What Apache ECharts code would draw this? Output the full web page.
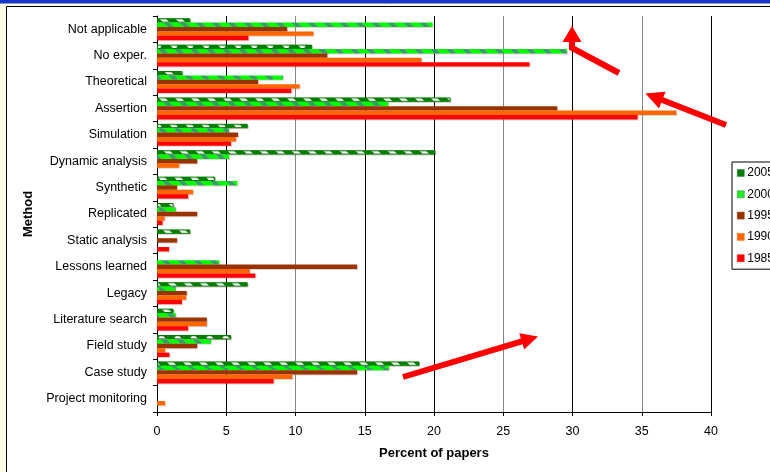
<!DOCTYPE html>
<html>
<head>
<meta charset="utf-8">
<script src="https://cdn.jsdelivr.net/npm/echarts@6/dist/echarts.min.js"></script>
<style>
  html, body { margin: 0; padding: 0; background: #ffffff; }
  #chart { width: 770px; height: 472px; }
</style>
</head>
<body>
<div id="chart"></div>
<script>
// Research methods by period: percent of papers per method
const methods = ['Not applicable', 'No exper.', 'Theoretical', 'Assertion', 'Simulation',
  'Dynamic analysis', 'Synthetic', 'Replicated', 'Static analysis', 'Lessons learned',
  'Legacy', 'Literature search', 'Field study', 'Case study', 'Project monitoring'];
const periods = ['2005', '2000', '1995', '1990', '1985'];
const pct2005 = [2.4, 11.2, 1.85, 21.2, 6.55, 20.1, 4.2, 1.2, 2.4, 0, 6.55, 1.2, 5.35, 18.95, 0];
const pct2000 = [19.9, 29.6, 9.1, 16.7, 5.2, 5.2, 5.8, 1.35, 0, 4.5, 1.35, 1.35, 3.9, 16.75, 0];
const pct1995 = [9.4, 12.3, 7.3, 28.9, 5.85, 2.9, 1.45, 2.9, 1.45, 14.45, 2.15, 3.6, 2.9, 14.45, 0];
const pct1990 = [11.3, 19.1, 10.3, 37.5, 5.7, 1.6, 2.6, 0.55, 0, 6.7, 2.1, 3.6, 0.58, 9.77, 0.58];
const pct1985 = [6.6, 26.9, 9.7, 34.7, 5.35, 0, 2.25, 0.4, 0.87, 7.1, 1.8, 2.25, 0.9, 8.42, 0];
const xTicks = [0, 5, 10, 15, 20, 25, 30, 35, 40];

// Diagonal hatch tiles for the two most recent periods
function hatch(base, stripe, stripeW) {
  const c = document.createElement('canvas');
  c.width = 16; c.height = 16;
  const g = c.getContext('2d');
  g.fillStyle = base;
  g.fillRect(0, 0, 16, 16);
  g.strokeStyle = stripe;
  g.lineWidth = stripeW;
  for (let x = -32; x <= 32; x += 16) {
    g.beginPath();
    g.moveTo(x, 0);
    g.lineTo(x + 16, 16);
    g.stroke();
  }
  return { image: c, repeat: 'repeat' };
}

const fills = [
  hatch('#008000', '#ffffff', 4.5),
  hatch('#00ff00', '#3a9a6a', 4),
  '#993300',
  '#ff6600',
  '#ff0000'
];
const legendColors = ['#0a7a0a', '#22ee22', '#993300', '#ff6600', '#ff0000'];
const values = [pct2005, pct2000, pct1995, pct1990, pct1985];

const series = periods.map((p, i) => ({
  name: p,
  type: 'bar',
  barWidth: 4.4,
  barGap: '0%',
  data: values[i].map(v => (v === 0 ? '-' : v)),
  itemStyle: {
    color: fills[i],
    borderColor: i === 0 ? '#008000' : null,
    borderWidth: i === 0 ? 1 : 0,
    shadowColor: 'rgba(120,60,60,0.22)',
    shadowOffsetX: 1,
    shadowOffsetY: 1
  },
  emphasis: { disabled: true }
}));

// Red call-out arrow as a filled polygon from tail to tip
function arrow(x1, y1, x2, y2, w, hl, hw) {
  const dx = x2 - x1, dy = y2 - y1, L = Math.hypot(dx, dy);
  const ux = dx / L, uy = dy / L, px = -uy, py = ux;
  const bx = x2 - ux * hl, by = y2 - uy * hl;
  return {
    type: 'polygon', z: 100,
    shape: { points: [
      [x1 + px * w / 2, y1 + py * w / 2],
      [bx + px * w / 2, by + py * w / 2],
      [bx + px * hw / 2, by + py * hw / 2],
      [x2, y2],
      [bx - px * hw / 2, by - py * hw / 2],
      [bx - px * w / 2, by - py * w / 2],
      [x1 - px * w / 2, y1 - py * w / 2]
    ] },
    style: { fill: '#ff0000' }
  };
}

const chart = echarts.init(document.getElementById('chart'), null, { renderer: 'canvas' });
chart.setOption({
  animation: false,
  backgroundColor: '#ffffff',
  textStyle: { fontFamily: 'Liberation Sans, Arial, sans-serif' },
  grid: { left: 157, right: 59, top: 16, bottom: 60, containLabel: false },
  legend: {
    orient: 'vertical',
    left: 732, top: 162,
    padding: [4, 40, 4, 5],
    itemWidth: 7, itemHeight: 7,
    itemGap: 7.3,
    icon: 'rect',
    borderColor: '#000', borderWidth: 1,
    backgroundColor: '#ffffff',
    textStyle: { fontSize: 12, color: '#000', lineHeight: 14, padding: [0, 0, 0, -2] },
    data: periods.map((p, i) => ({ name: p, itemStyle: { color: legendColors[i], borderColor: i < 2 ? '#2a7a4a' : legendColors[i], borderWidth: 0.5 } }))
  },
  xAxis: {
    type: 'value',
    min: xTicks[0], max: xTicks[xTicks.length - 1], interval: 5,
    name: 'Percent of papers',
    nameLocation: 'middle',
    nameGap: 35,
    nameTextStyle: { fontSize: 13, fontWeight: 'bold', color: '#000' },
    axisLine: { show: true, lineStyle: { color: '#000', width: 1 } },
    axisTick: { show: true, length: 4, lineStyle: { color: '#000' } },
    axisLabel: { fontSize: 12.5, color: '#000', margin: 13 },
    splitLine: { show: true, lineStyle: { color: ['#000', '#000', '#888', '#000', '#000', '#888', '#000', '#888', '#000'], width: 1 } }
  },
  yAxis: {
    type: 'category',
    inverse: true,
    data: methods,
    name: 'Method',
    nameLocation: 'middle',
    nameGap: 122,
    nameTextStyle: { fontSize: 13, fontWeight: 'bold', color: '#000' },
    axisLine: { show: true, lineStyle: { color: '#000', width: 1 } },
    axisTick: { show: true, length: 4, lineStyle: { color: '#000' } },
    axisLabel: { fontSize: 12.5, color: '#000', margin: 10 },
    splitLine: { show: false }
  },
  series: series,
  graphic: [
    { type: 'rect', z: -1, shape: { x: 0, y: 0, width: 770, height: 7 }, style: { fill: '#fcfbe6' } },
    { type: 'rect', z: -1, shape: { x: 0, y: 0, width: 7, height: 472 }, style: { fill: '#fcfbe6' } },
    { type: 'rect', z: 0, shape: { x: 0, y: 0, width: 770, height: 3.5 }, style: { fill: '#1638c8' } },
    { type: 'polyline', z: 0, shape: { points: [[6.5, 472], [6.5, 6.5], [770, 6.5]] }, style: { stroke: '#000', lineWidth: 1, fill: null } },
    // bent arrow pointing up to the 30% line
    { type: 'polyline', z: 100, shape: { points: [[619, 73], [572, 48], [572, 40]] }, style: { stroke: '#ff0000', lineWidth: 6, fill: null, lineJoin: 'miter' } },
    { type: 'polygon', z: 100, shape: { points: [[572, 26], [562.5, 42], [581.5, 42]] }, style: { fill: '#ff0000' } },
    arrow(726, 125, 645.5, 93.5, 6, 18, 18),
    arrow(403, 377, 538, 336.5, 6, 17, 17)
  ]
});
</script>
</body>
</html>
